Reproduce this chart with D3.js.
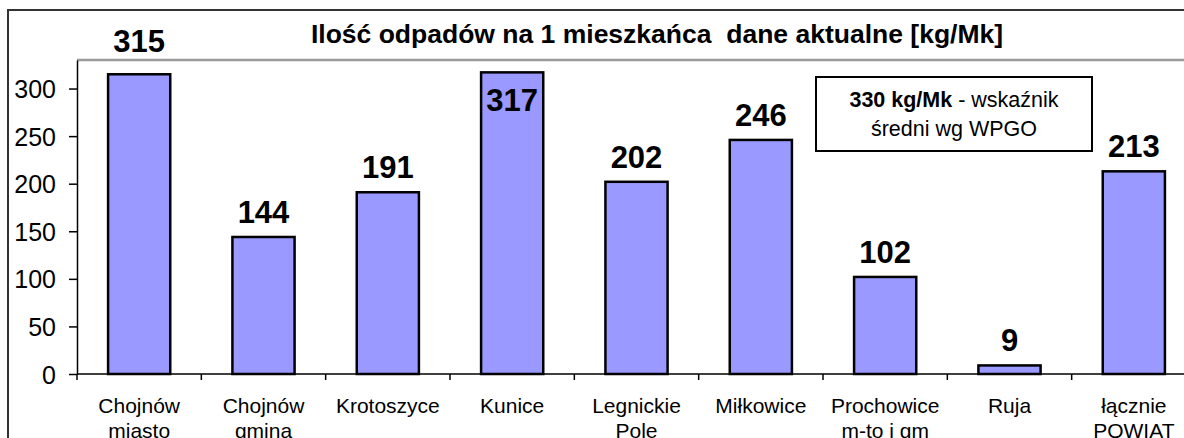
<!DOCTYPE html>
<html>
<head>
<meta charset="utf-8">
<script src="https://cdn.jsdelivr.net/npm/d3@7/dist/d3.min.js"></script>
<style>
  html, body { margin: 0; padding: 0; background: #fff; }
  svg { display: block; font-family: "Liberation Sans", Arial, sans-serif; }
  .yAxis .domain { stroke: #000; stroke-width: 1.5; }
  .yAxis .tick line { stroke: #000; stroke-width: 1.5; }
  .yAxis .tick text { font-size: 25px; fill: #000; }
  .chartTitle { white-space: pre; }
</style>
</head>
<body>
<div id="chart"></div>
<script>
var categories = ["Chojnów\nmiasto", "Chojnów\ngmina", "Krotoszyce", "Kunice", "Legnickie\nPole",
                  "Miłkowice", "Prochowice\nm-to i gm", "Ruja", "łącznie\nPOWIAT"];
var values = [315, 144, 191, 317, 202, 246, 102, 9, 213];
var yTicks = [0, 50, 100, 150, 200, 250, 300];
var yMax = 330;
var titleText = "Ilość odpadów na 1 mieszkańca  dane aktualne [kg/Mk]";
var noteBold = "330 kg/Mk";
var noteRest = " - wskaźnik";
var noteLine2 = "średni wg WPGO";

(function () {
  'use strict'
  var W = 1184, H = 438;
  var margin = {top: 60, left: 77, bottom: 64};
  var plotRight = 1196;

  var svg = d3.select("#chart").append("svg")
    .attr("width", W).attr("height", H);

  // outer chart border (runs off the picture on the right and bottom)
  svg.append("rect")
    .attr("x", 8).attr("y", 10)
    .attr("width", 1300).attr("height", 600)
    .attr("fill", "#fff").attr("stroke", "#333").attr("stroke-width", 2);

  var x = d3.scaleBand()
    .domain(categories)
    .range([margin.left, plotRight])
    .paddingInner(0.5)
    .paddingOuter(0.25);

  var y = d3.scaleLinear()
    .domain([0, yMax])
    .range([H - margin.bottom, margin.top]);

  // plot area top border
  svg.append("line")
    .attr("x1", margin.left).attr("x2", plotRight)
    .attr("y1", y(yMax)).attr("y2", y(yMax))
    .attr("stroke", "#9a9a9a").attr("stroke-width", 2.5);

  // title
  svg.append("text")
    .attr("class", "chartTitle")
    .attr("x", 657).attr("y", 43)
    .attr("text-anchor", "middle")
    .attr("font-weight", "bold")
    .attr("font-size", 26.5)
    .text(titleText);

  // bars
  svg.append("g").selectAll("rect")
    .data(values)
    .enter().append("rect")
    .attr("x", function(d, i) { return x(categories[i]); })
    .attr("y", function(d) { return y(d); })
    .attr("width", x.bandwidth())
    .attr("height", function(d) { return y(0) - y(d); })
    .attr("fill", "#9999ff")
    .attr("stroke", "#000")
    .attr("stroke-width", 2.5);

  // y axis
  var yAxisG = svg.append("g")
    .attr("class", "yAxis")
    .attr("transform", "translate(" + margin.left + ",0)")
    .call(d3.axisLeft(y).tickValues(yTicks).tickSize(8).tickPadding(13).tickSizeOuter(0));
  yAxisG.selectAll(".tick text").attr("dy", "0.36em");

  // x axis baseline + ticks at category borders
  var step = x.step();
  var bounds = d3.range(categories.length + 1).map(function(i) { return margin.left + i * step; });
  svg.append("line")
    .attr("x1", margin.left).attr("x2", plotRight)
    .attr("y1", y(0)).attr("y2", y(0))
    .attr("stroke", "#000").attr("stroke-width", 1.5);
  svg.append("g").selectAll("line")
    .data(bounds)
    .enter().append("line")
    .attr("x1", function(d) { return d; }).attr("x2", function(d) { return d; })
    .attr("y1", y(0)).attr("y2", y(0) + 6)
    .attr("stroke", "#000").attr("stroke-width", 1.5);

  // category labels
  var catG = svg.append("g").selectAll("text")
    .data(categories)
    .enter().append("text")
    .attr("text-anchor", "middle")
    .attr("font-size", 21)
    .attr("x", function(d) { return x(d) + x.bandwidth() / 2; })
    .attr("y", y(0) + 39);
  catG.each(function(d) {
    var parts = d.split("\n");
    var t = d3.select(this);
    parts.forEach(function(p, k) {
      t.append("tspan")
        .attr("x", x(d) + x.bandwidth() / 2)
        .attr("dy", k == 0 ? 0 : 25)
        .text(p);
    });
  });

  // value labels
  var maxVal = d3.max(values);
  svg.append("g").selectAll("text")
    .data(values)
    .enter().append("text")
    .attr("text-anchor", "middle")
    .attr("font-weight", "bold")
    .attr("font-size", 31)
    .attr("x", function(d, i) { return x(categories[i]) + x.bandwidth() / 2; })
    .attr("y", function(d) {
      if (d == maxVal) return y(d) + 39;   // sits inside the tallest bar
      if (y(d) - 14 - 22 < y(yMax)) return y(yMax) - 8;
      return y(d) - 14;
    })
    .text(function(d) { return d; });

  // note box
  var noteG = svg.append("g");
  noteG.append("rect")
    .attr("x", 816).attr("y", 77)
    .attr("width", 276).attr("height", 74)
    .attr("fill", "#fff").attr("stroke", "#000").attr("stroke-width", 2);
  var n1 = noteG.append("text")
    .attr("x", 954).attr("y", 107)
    .attr("text-anchor", "middle")
    .attr("font-size", 21.5);
  n1.append("tspan").attr("font-weight", "bold").text(noteBold);
  n1.append("tspan").text(noteRest);
  noteG.append("text")
    .attr("x", 954).attr("y", 136)
    .attr("text-anchor", "middle")
    .attr("font-size", 21.5)
    .text(noteLine2);
})()
</script>
</body>
</html>
